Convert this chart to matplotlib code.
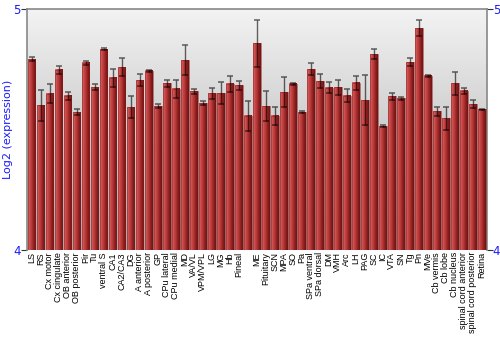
import numpy as np
import matplotlib
matplotlib.use('Agg')
import matplotlib.pyplot as plt
from matplotlib.colors import LinearSegmentedColormap

regions = ['LS', 'RS', 'Cx motor', 'Cx cingulate', 'OB anterior', 'OB posterior',
           'Pir', 'Tu', 'ventral S', 'CA1', 'CA2/CA3', 'DG', 'A anterior',
           'A posterior', 'GP', 'CPu lateral', 'CPu medial', 'MD', 'VA/VL',
           'VPM/VPL', 'LG', 'MG', 'Hb', 'Pineal', '', 'ME', 'Pituitary', 'SCN',
           'MPA', 'SO', 'Pa', 'SPa ventral', 'SPa dorsal', 'DM', 'VMH', 'Arc',
           'LH', 'PAG', 'SC', 'IC', 'VTA', 'SN', 'Tg', 'Pn', 'MVe', 'Cb vermis',
           'Cb lobe', 'Cb nucleus', 'spinal cord anterior',
           'spinal cord posterior', 'Retina']
expr = [4.792, 4.602, 4.649, 4.748, 4.640, 4.573, 4.778, 4.677, 4.834, 4.715,
        4.759, 4.594, 4.705, 4.744, 4.598, 4.693, 4.669, 4.788, 4.659, 4.609,
        4.651, 4.651, 4.690, 4.684, 4.557, 4.859, 4.598, 4.557, 4.655, 4.690,
        4.573, 4.751, 4.702, 4.675, 4.676, 4.641, 4.694, 4.623, 4.814, 4.515,
        4.639, 4.630, 4.781, 4.922, 4.723, 4.577, 4.547, 4.692, 4.661, 4.605,
        4.584]
err = [0.008, 0.064, 0.039, 0.017, 0.015, 0.014, 0.008, 0.014, 0.005, 0.037,
       0.037, 0.045, 0.025, 0.003, 0.010, 0.015, 0.036, 0.062, 0.009, 0.008,
       0.022, 0.046, 0.032, 0.019, 0.062, 0.098, 0.061, 0.039, 0.062, 0.005,
       0.003, 0.025, 0.031, 0.022, 0.032, 0.028, 0.028, 0.105, 0.022, 0.005,
       0.015, 0.005, 0.015, 0.032, 0.003, 0.019, 0.048, 0.046, 0.012, 0.017,
       0.002]
yMin, yMax = 4, 5

blue = (0.1, 0.1, 1.0)
spineColor = '#888888'
barMap = LinearSegmentedColormap.from_list(
    'bar', ['#d87272', '#c84848', '#b43434', '#8a1e1e', '#6e1414'])
bgMap = LinearSegmentedColormap.from_list('bg', ['#f3f3f3', '#a8a8a8'])

fig = plt.figure(figsize=(5, 3.5), dpi=100)
ax = fig.add_axes([0.054, 0.2857, 0.919, 0.6877])

n = len(regions)
xPos = np.arange(n)
width = 0.86

# background gradient, top light to bottom darker
ax.imshow(np.linspace(0, 1, 256).reshape(-1, 1), cmap=bgMap, aspect='auto',
          extent=[0, 1, 0, 1], transform=ax.transAxes, zorder=0)

grad = np.linspace(0, 1, 64).reshape(1, -1)
for x, v in zip(xPos, expr):
    ax.imshow(grad, cmap=barMap, aspect='auto', zorder=2,
              extent=[x - width / 2, x + width / 2, yMin, v])
bars = ax.bar(xPos, np.array(expr) - yMin, bottom=yMin, width=width,
              facecolor='none', edgecolor=(0.55, 0.1, 0.1, 0.6),
              linewidth=0.6, zorder=3)
ax.errorbar(xPos, expr, yerr=err, fmt='none', ecolor=(0, 0, 0, 0.6),
            elinewidth=1.0, capsize=2.2, capthick=1.1, zorder=4)

ax.set_xlim(-0.5, n - 0.5)
ax.set_ylim(yMin, yMax)
ax.set_xticks(xPos)
ax.set_xticklabels(regions, rotation=90, fontsize=6.5,
                   family='Liberation Sans')
ax.tick_params(axis='x', length=0, pad=1.5)
ax.set_yticks([yMin, yMax])
ax.set_yticklabels(['4', '5'], color=blue, fontsize=8.5)
ax.tick_params(axis='y', length=4, width=0.8, color='#333333', pad=0.5,
               right=True, labelright=True)
ax.set_ylabel('Log2 (expression)', color=blue, fontsize=8, va='center')
ax.yaxis.set_label_coords(-0.041, 0.5)

for side in ['left', 'right', 'top']:
    ax.spines[side].set_color(spineColor)
    ax.spines[side].set_linewidth(1.2)
ax.spines['bottom'].set_visible(False)

fig.savefig('out.png', dpi=100)
